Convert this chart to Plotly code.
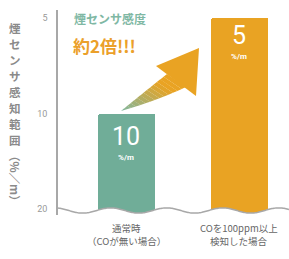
import math
import plotly.graph_objects as go

# ---- data ----
categories = [["通常時", "（COが無い場合）"], ["COを100ppm以上", "検知した場合"]]
values = [10, 5]                      # %/m
value_labels = ["10", "5"]
tick_vals = [5, 10, 20]
tick_text = ["5", "10", "20"]
bar_colors = ["#70ad98", "#e9a323"]
y_title_chars = list("煙センサ感知範囲")
y_title_unit = "（%／m）"

W, H = 289, 259
L, R, T, B = 58, 0, 10, 44
PW, PH = W - L - R, H - T - B

def px(x):
    return (x - L) / PW

def py(y):
    return (H - B - y) / PH

# log axis calibrated so that 5 sits at y=18px and 20 at y=209px
per_px = (math.log10(20) - math.log10(5)) / (209 - 18)
top_val = math.log10(5) - (18 - T) * per_px
bot_val = math.log10(20) + (H - B - 209) * per_px

base = 22
fig = go.Figure()
fig.add_trace(go.Bar(
    x=[0, 1], y=[v - base for v in values], base=base,
    width=0.505, marker=dict(color=bar_colors, line=dict(width=0), cornerradius=2),
    hoverinfo="skip", showlegend=False,
))

font_jp = "Noto Sans CJK JP, sans-serif"
shapes = []

# wavy baseline (decoration)
def wave_y(x):
    return 210.5 + 2.6 * math.sin(2 * math.pi * (x - 58) / 56 - 1.2)

xs = [58 + i * 1.0 for i in range(0, 232)]
pts = [(px(x), py(wave_y(x))) for x in xs]
line_path = "M " + " L ".join(f"{a:.5f},{b:.5f}" for a, b in pts)
fill_path = line_path + f" L {px(289):.5f},{py(216):.5f} L {px(58):.5f},{py(216):.5f} Z"
shapes.append(dict(type="path", xref="paper", yref="paper", path=fill_path,
                   fillcolor="white", line=dict(width=0), layer="above"))
shapes.append(dict(type="path", xref="paper", yref="paper", path=line_path,
                   line=dict(color="#a8a8a8", width=1.5), layer="above"))

# curved arrow with green->orange gradient (decoration)
def bez(p0, p1, p2, t):
    return ((1 - t) ** 2 * p0[0] + 2 * (1 - t) * t * p1[0] + t * t * p2[0],
            (1 - t) ** 2 * p0[1] + 2 * (1 - t) * t * p1[1] + t * t * p2[1])

U = [(121, 111), (143, 93), (167, 74)]
Lw = [(121, 111), (156, 101), (186, 87)]
c0 = (128, 184, 160)
c1 = (233, 163, 35)
N = 14
for i in range(N):
    t0, t1 = i / N, (i + 1.02) / N
    a, b = bez(*U, t0), bez(*U, min(t1, 1))
    c, d = bez(*Lw, min(t1, 1)), bez(*Lw, t0)
    f = min(1, (i + 0.5) / N / 0.8)
    col = tuple(int(c0[k] + (c1[k] - c0[k]) * f) for k in range(3))
    path = "M " + " L ".join(f"{px(p[0]):.5f},{py(p[1]):.5f}" for p in [a, b, c, d]) + " Z"
    shapes.append(dict(type="path", xref="paper", yref="paper", path=path,
                       fillcolor=f"rgb{col}", line=dict(width=0), layer="above"))
head = [(156, 66), (199, 48), (196, 96)]
path = "M " + " L ".join(f"{px(p[0]):.5f},{py(p[1]):.5f}" for p in head) + " Z"
shapes.append(dict(type="path", xref="paper", yref="paper", path=path,
                   fillcolor="rgb(233,163,35)", line=dict(width=0), layer="above"))

ann = []
# value labels inside bars
label_y = [136, 35]
unit_y = [157, 57]
for i, (lab, ly, uy) in enumerate(zip(value_labels, label_y, unit_y)):
    ann.append(dict(x=i, xref="x", y=py(ly), yref="paper", text=lab, showarrow=False,
                    borderpad=0, font=dict(family="Roboto, sans-serif", size=25, color="white"),
                    xanchor="center", yanchor="middle"))
    ann.append(dict(x=i, xref="x", y=py(uy), yref="paper", text="<b>%/m</b>", showarrow=False,
                    borderpad=0, font=dict(family="Roboto, sans-serif", size=8, color="white"),
                    xanchor="center", yanchor="middle"))
# category labels (two lines each)
for i, lines in enumerate(categories):
    for j, line in enumerate(lines):
        ann.append(dict(x=i, xref="x", y=py(228 + 12.5 * j), yref="paper", text=line,
                        showarrow=False, borderpad=0,
                        font=dict(family=font_jp, size=9.5, color="#666666"),
                        xanchor="center", yanchor="middle"))
# headline
ann.append(dict(x=px(72), xref="paper", y=py(18), yref="paper", text="<b>煙センサ感度</b>",
                showarrow=False, font=dict(family=font_jp, size=12, color="#7fb8a4"),
                xanchor="left", yanchor="middle"))
ann.append(dict(x=px(71), xref="paper", y=py(45), yref="paper", text="<b>約2倍!!!</b>",
                showarrow=False, font=dict(family=font_jp, size=17, color="#eba02a"),
                xanchor="left", yanchor="middle"))
# vertical y title, one character per line
for k, ch in enumerate(y_title_chars):
    ann.append(dict(x=px(15), xref="paper", y=py(28 + 16 * k), yref="paper",
                    text=f"<b>{ch}</b>", showarrow=False, borderpad=0,
                    font=dict(family=font_jp, size=11.5, color="#8a8a8a"),
                    xanchor="center", yanchor="middle"))
ann.append(dict(x=px(15), xref="paper", y=py(178), yref="paper",
                text=f"<b>{y_title_unit}</b>", textangle=90, showarrow=False,
                font=dict(family=font_jp, size=11.5, color="#8a8a8a"),
                xanchor="center", yanchor="middle"))

fig.update_layout(
    width=W, height=H, margin=dict(l=L, r=R, t=T, b=B),
    paper_bgcolor="white", plot_bgcolor="white",
    xaxis=dict(range=[-0.602, 1.442], showticklabels=False, showgrid=False,
               zeroline=False, showline=False, fixedrange=True),
    yaxis=dict(type="log", range=[bot_val, top_val], tickvals=tick_vals, ticktext=tick_text,
               showgrid=False, zeroline=False, showline=True, linecolor="#a8a8a8", linewidth=1.5,
               ticks="outside", ticklen=7, tickcolor="rgba(0,0,0,0)", fixedrange=True,
               tickfont=dict(family="Roboto, sans-serif", size=9, color="#999999")),
    shapes=shapes, annotations=ann, bargap=0,
)
fig.write_html("out.html", config={"displayModeBar": False},
               post_script="document.body.style.margin='0';")
